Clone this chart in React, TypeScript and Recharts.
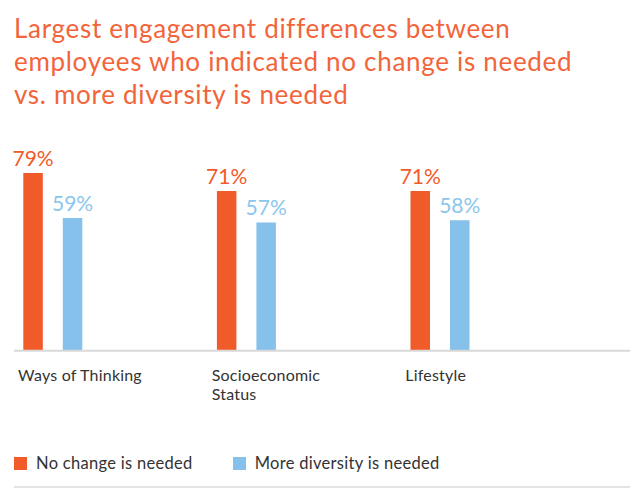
import React from "react"
import { BarChart, Bar, XAxis, YAxis, LabelList } from "recharts"

const categories = [["Ways of Thinking"], ["Socioeconomic", "Status"], ["Lifestyle"]]
const noChange = [79, 71, 71]
const moreDiversity = [59, 57, 58]
const seriesNames = ["No change is needed", "More diversity is needed"]

const ORANGE = "#F15A29"
const BLUE = "#85C1EA"
const FONT = "Lato, 'Noto Sans', sans-serif"

const data = categories.map((c, i) => ({
  idx: i,
  noChange: noChange[i],
  moreDiversity: moreDiversity[i],
}))

// eslint-disable-next-line @typescript-eslint/no-explicit-any
function CategoryTick({ x, y, payload }: any) {
  const lines = categories[payload.value] || []
  return (
    <text x={x - 35} y={y} fill="#333" fontSize={16} letterSpacing={0.2} fontFamily={FONT} textAnchor="start">
      {lines.map((l, i) => (
        <tspan key={i} x={x - 35} dy={i === 0 ? 22.5 : 18.5}>
          {l}
        </tspan>
      ))}
    </text>
  )
}

export default function App() {
  return (
    <div style={{ position: "absolute", left: 0, top: 0, width: 640, height: 496, background: "#fff", fontFamily: FONT }}>
      <div
        style={{
          position: "absolute",
          left: 14,
          top: 12,
          fontSize: 26,
          lineHeight: "33px",
          letterSpacing: 0.7,
          color: "#F2643A",
        }}
      >
        Largest engagement differences between
        <br />
        employees who indicated no change is needed
        <br />
        vs. more diversity is needed
      </div>
      <div style={{ position: "absolute", left: 0, top: 0 }}>
        <BarChart
          width={640}
          height={420}
          data={data}
          margin={{ top: 125.7, right: 10, bottom: 9.3, left: 14 }}
          barGap={20}
        >
          <XAxis
            dataKey="idx"
            type="number"
            domain={[-0.202, 2.98]}
            ticks={[0, 1, 2]}
            height={60}
            tickLine={false}
            axisLine={{ stroke: "#d9d9d9", strokeWidth: 2 }}
            tick={<CategoryTick />}
            interval={0}
          />
          <YAxis hide domain={[0, 100]} />
          <Bar dataKey="noChange" name={seriesNames[0]} fill={ORANGE} barSize={19.5} isAnimationActive={false}>
            <LabelList
              dataKey="noChange"
              position="top"
              offset={7}
              formatter={(v: number) => `${v}%`}
              style={{ fill: ORANGE, fontSize: 21, fontFamily: FONT }}
            />
          </Bar>
          <Bar dataKey="moreDiversity" name={seriesNames[1]} fill={BLUE} barSize={19.5} isAnimationActive={false}>
            <LabelList
              dataKey="moreDiversity"
              position="top"
              offset={7}
              formatter={(v: number) => `${v}%`}
              style={{ fill: "#8CC6EC", fontSize: 21, fontFamily: FONT }}
            />
          </Bar>
        </BarChart>
      </div>
      <div
        style={{
          position: "absolute",
          left: 14,
          top: 452,
          height: 22,
          display: "flex",
          alignItems: "center",
          fontSize: 16.5,
          letterSpacing: 0.3,
          color: "#333",
        }}
      >
        <span style={{ width: 13, height: 13, background: ORANGE, display: "inline-block", marginRight: 9 }} />
        <span style={{ marginRight: 40 }}>{seriesNames[0]}</span>
        <span style={{ width: 13, height: 13, background: BLUE, display: "inline-block", marginRight: 9 }} />
        <span>{seriesNames[1]}</span>
      </div>
      <div style={{ position: "absolute", left: 14, top: 486, width: 616, height: 2, background: "#e3e3e3" }} />
    </div>
  )
}
